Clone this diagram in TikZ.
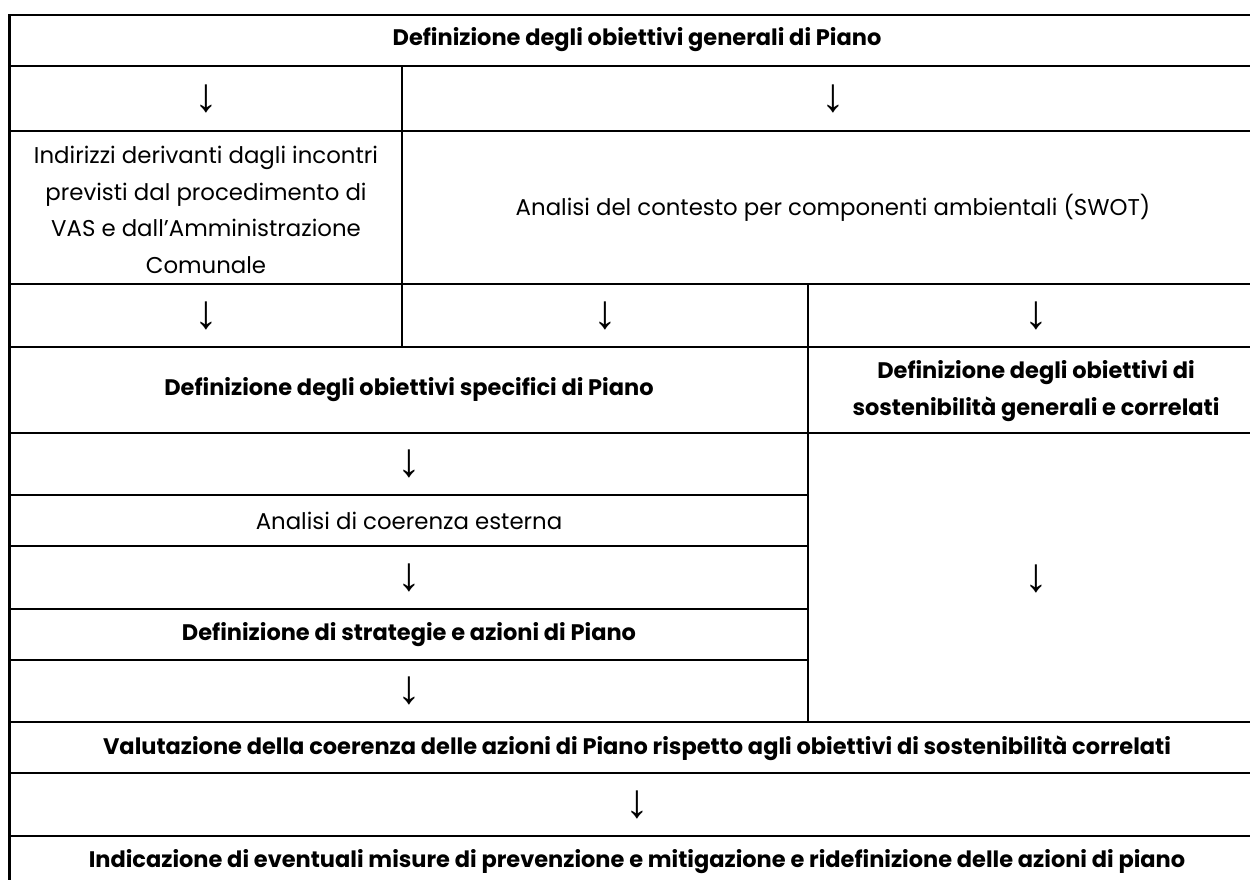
\documentclass[tikz,border=0pt]{standalone}
\usepackage{fontspec}
\setmainfont{Poppins}
\newfontfamily\arrowfont{Liberation Serif}
\usetikzlibrary{positioning}

\begin{document}
\begin{tikzpicture}[x=0.02cm, y=-0.02cm]
    \tikzstyle{cell} = [inner sep=0pt, align=center, font=\fontsize{13}{20.8}\selectfont]
    \tikzstyle{boldcell} = [cell, font=\fontsize{12.8}{20.8}\selectfont\bfseries]
    \tikzstyle{down} = [inner sep=0pt, font=\arrowfont\fontsize{27}{27}\selectfont]
    \tikzstyle{rule} = [draw, line width=1.2pt]

    \clip (0,0) rectangle (1250,879);

    % grid of the table
    \path [rule] (1264,15) -- (9.5,15) -- (9.5,900);
    \foreach \y in {66,131,284,347,433,722,773,836}
        \path [rule] (9.5,\y) -- (1264,\y);
    \foreach \y in {495,546,609,660}
        \path [rule] (9.5,\y) -- (808,\y);
    \path [rule] (402,66) -- (402,347);
    \path [rule] (808,284) -- (808,722);

    % texts
    \node [boldcell] (general) at (637,40) {Definizione degli obiettivi generali di Piano};
    \node [down] (down1) at (206,99) {↓};
    \node [down] (down2) at (833,99) {↓};
    \node [cell] (indirizzi) at (206,210) {Indirizzi derivanti dagli incontri\\previsti dal procedimento di\\VAS e dall’Amministrazione\\Comunale};
    \node [cell] (swot) at (833,208) {Analisi del contesto per componenti ambientali (SWOT)};
    \node [down] (down3) at (206,316) {↓};
    \node [down] (down4) at (605,316) {↓};
    \node [down] (down5) at (1036,316) {↓};
    \node [boldcell] (specifici) at (409,390) {Definizione degli obiettivi specifici di Piano};
    \node [boldcell] (sostenibilita) at (1036,391) {Definizione degli obiettivi di\\sostenibilità generali e correlati};
    \node [down] (down6) at (409,464) {↓};
    \node [cell] (esterna) at (409,521) {Analisi di coerenza esterna};
    \node [down] (down7) at (409,578) {↓};
    \node [boldcell] (strategie) at (409,635) {Definizione di strategie e azioni di Piano};
    \node [down] (down8) at (409,691) {↓};
    \node [down] (down9) at (1036,579) {↓};
    \node [boldcell] (valutazione) at (637,748) {Valutazione della coerenza delle azioni di Piano rispetto agli obiettivi di sostenibilità correlati};
    \node [down] (down10) at (637,805) {↓};
    \node [boldcell] (misure) at (637,862) {Indicazione di eventuali misure di prevenzione e mitigazione e ridefinizione delle azioni di piano};
\end{tikzpicture}
\end{document}
